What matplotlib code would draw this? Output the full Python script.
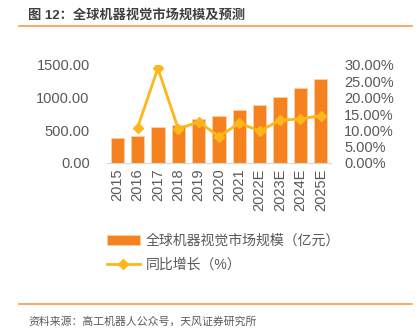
#!/usr/bin/env python3

import matplotlib
matplotlib.use("Agg")
import matplotlib.pyplot as plt
from matplotlib.ticker import FuncFormatter

plt.rcParams["font.family"] = ["Liberation Sans", "Noto Sans CJK SC", "DejaVu Sans"]

years = ["2015", "2016", "2017", "2018", "2019", "2020", "2021",
         "2022E", "2023E", "2024E", "2025E"]
market_size = [378, 418, 551, 587, 679, 714, 806, 883, 1010, 1143, 1286]
growth = [None, 10.8, 29.0, 10.4, 12.6, 8.1, 12.2, 9.8, 13.1, 13.5, 14.5]

BAR_COLOR = "#F5821F"
LINE_COLOR = "#FDB71A"
TEXT_COLOR = "#595959"
RULE_COLOR = "#F79A4B"

W, H = 418, 330
fig = plt.figure(figsize=(W / 100, H / 100), dpi=100)

ax = fig.add_axes([107 / W, (H - 163) / H, 224 / W, 98 / H])
x = list(range(len(years)))
bars = ax.bar(x, market_size, width=0.65, color=BAR_COLOR,
              edgecolor="#FBD3B0", linewidth=0.5, zorder=2)
ax.set_xlim(-0.5, len(years) - 0.5)
ax.set_ylim(0, 1500)
ax.set_yticks([0, 500, 1000, 1500])
ax.yaxis.set_major_formatter(FuncFormatter(lambda v, p: f"{v:.2f}"))
ax.set_xticks(x)
ax.set_xticklabels(years, rotation=90)
for s in ["top", "right", "left"]:
    ax.spines[s].set_visible(False)
ax.spines["bottom"].set_color("#D9D9D9")
ax.tick_params(axis="both", length=0, labelsize=10.5, colors=TEXT_COLOR)
ax.tick_params(axis="y", pad=12.5)
ax.tick_params(axis="x", pad=4)

ax2 = ax.twinx()
gx = [i for i, g in enumerate(growth) if g is not None]
gy = [g for g in growth if g is not None]
line, = ax2.plot(gx, gy, color=LINE_COLOR, linewidth=2, marker="D",
                 markersize=5, zorder=3)
ax2.set_ylim(0, 30)
ax2.set_yticks([0, 5, 10, 15, 20, 25, 30])
ax2.yaxis.set_major_formatter(FuncFormatter(lambda v, p: f"{v:.2f}%"))
for s in ["top", "right", "left", "bottom"]:
    ax2.spines[s].set_visible(False)
ax2.tick_params(axis="y", length=0, labelsize=10.5, colors=TEXT_COLOR, pad=9.5)

fig.legend([bars, line], ["全球机器视觉市场规模（亿元）", "同比增长（%）"],
           loc="upper left", bbox_to_anchor=(94 / W, 1 - 221 / H),
           frameon=False, fontsize=10, labelcolor=TEXT_COLOR,
           handlelength=2.4, handletextpad=0.4, labelspacing=0.75)

# title and rules
fig.text(28 / W, 1 - 15 / H, "图 12：全球机器视觉市场规模及预测",
         fontsize=9.5, fontweight="bold", color="#404040", va="center", ha="left")
fig.add_artist(plt.Line2D([19 / W, 412 / W], [1 - 26 / H, 1 - 26 / H],
                          color=RULE_COLOR, linewidth=1.2))
fig.add_artist(plt.Line2D([19 / W, 412 / W], [1 - 304 / H, 1 - 304 / H],
                          color=RULE_COLOR, linewidth=1.2))
fig.text(28 / W, 1 - 321.5 / H, "资料来源：高工机器人公众号，天风证券研究所",
         fontsize=7.8, color=TEXT_COLOR, va="center", ha="left")

fig.savefig("out.png", dpi=100)
